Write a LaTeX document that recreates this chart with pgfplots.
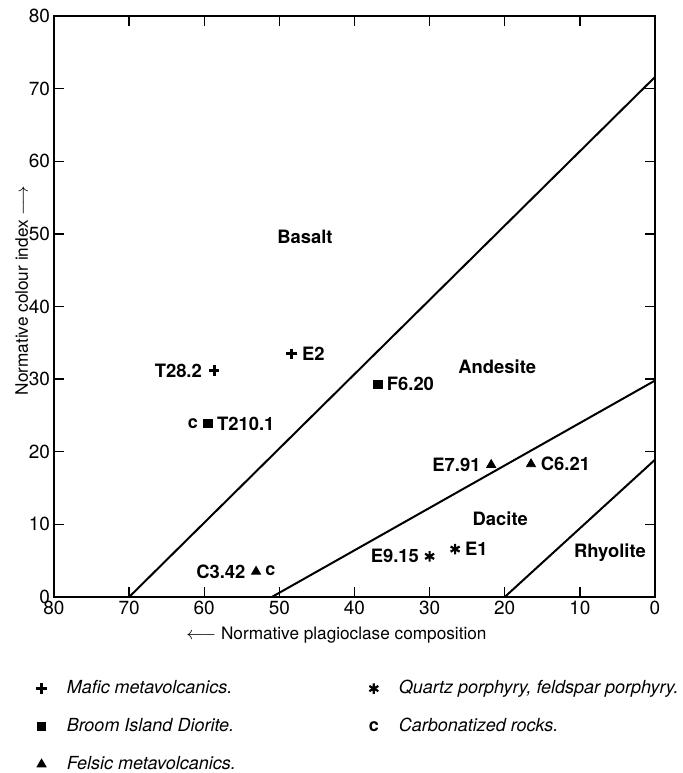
\documentclass[border=0pt]{standalone}
\usepackage{pgfplots}
\pgfplotsset{compat=1.18}
\usepackage{fontspec}
\setmainfont{TeX Gyre Heros}
\usetikzlibrary{plotmarks}
\begin{document}
\begin{tikzpicture}
\path[use as bounding box] (0,0) rectangle (341pt,386.5pt);
\begin{axis}[
  at={(27pt,88pt)}, anchor=south west,
  scale only axis, width=300.5pt, height=290.5pt,
  x dir=reverse,
  xmin=0, xmax=80, ymin=0, ymax=80,
  xtick={0,10,...,80}, ytick={0,10,...,80},
  tick align=inside, major tick length=5pt,
  tick style={line width=0.7pt, black},
  axis line style={line width=0.8pt},
  /pgf/number format/assume math mode=true,
  tick label style={font=\fontsize{9.5}{11}\selectfont},
  xticklabel style={yshift=1.5pt},
  yticklabel style={xshift=1.5pt},
  xlabel={$\longleftarrow$ Normative plagioclase composition},
  ylabel={Normative colour index $\longrightarrow$},
  label style={font=\fontsize{8.6}{10}\selectfont},
  xlabel style={yshift=1pt, xshift=-9pt},
  ylabel style={yshift=-6.5pt, xshift=8pt},
  clip=false,
  legend style={draw=none, fill=none, at={(axis description cs:-0.04,-0.129)}, anchor=north west,
    font=\itshape\fontsize{9}{10}\selectfont,
    /tikz/every even column/.append style={column sep=64.5pt},
    row sep=6.75pt, cells={anchor=west}},
  legend columns=3, transpose legend,
  legend cell align=left,
]
% field boundaries
\addplot[black, line width=1pt, forget plot] coordinates {(70,0) (0,71.6)};
\addplot[black, line width=1pt, forget plot] coordinates {(51,0) (0,29.8)};
\addplot[black, line width=1pt, forget plot] coordinates {(20,0) (0,18.9)};
% samples
\addplot[only marks, mark=+, mark size=2.6pt, line width=1.5pt, black] coordinates {(58.7,31.2) (48.4,33.5)};
\addlegendentry{\hspace{8pt}Mafic metavolcanics.}
\addplot[only marks, mark=square*, mark size=2.1pt, black] coordinates {(59.5,23.9) (36.9,29.3)};
\addlegendentry{\hspace{8pt}Broom Island Diorite.}
\addplot[only marks, mark=triangle*, mark size=2.6pt, black] coordinates {(21.8,18.2) (16.5,18.3) (53.1,3.5)};
\addlegendentry{\hspace{8pt}Felsic metavolcanics.}
\addplot[only marks, mark=asterisk, mark size=2.6pt, line width=1.1pt, black] coordinates {(30.0,5.6) (26.6,6.6)};
\addlegendentry{\hspace{8pt}Quartz porphyry, feldspar porphyry.}
\addplot[only marks, mark=text, text mark={\upshape\bfseries\fontsize{9}{10}\selectfont c}, black] coordinates {(61.5,23.9) (51.2,3.6)};
\addlegendentry{\hspace{8pt}Carbonatized rocks.}
% sample labels
\begin{scope}[every node/.style={font=\bfseries\fontsize{9.2}{11}\selectfont, inner sep=1pt}]
\node[anchor=east] at (axis cs:60,31.2) {T28.2};
\node[anchor=west] at (axis cs:47.3,33.5) {E2};
\node[anchor=west] at (axis cs:58.6,23.9) {T210.1};
\node[anchor=west] at (axis cs:36,29.3) {F6.20};
\node[anchor=east] at (axis cs:22.9,18.2) {E7.91};
\node[anchor=west] at (axis cs:15.5,18.3) {C6.21};
\node[anchor=east] at (axis cs:54.2,3.5) {C3.42};
\node[anchor=east] at (axis cs:31.1,5.6) {E9.15};
\node[anchor=west] at (axis cs:25.6,6.6) {E1};
% field names
\node at (axis cs:46.6,49.6) {Basalt};
\node at (axis cs:21,31.7) {Andesite};
\node at (axis cs:20.6,10.8) {Dacite};
\node at (axis cs:6,6.1) {Rhyolite};
\end{scope}
\end{axis}
\end{tikzpicture}
\end{document}
